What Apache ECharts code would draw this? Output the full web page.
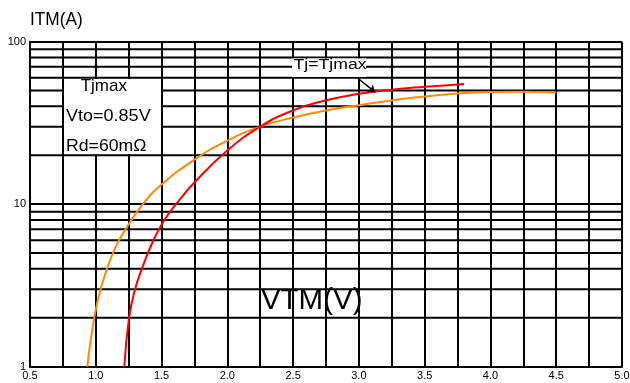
<!DOCTYPE html>
<html>
<head>
<meta charset="utf-8">
<script src="https://cdn.jsdelivr.net/npm/echarts@6/dist/echarts.min.js"></script>
<style>
html,body{margin:0;padding:0;background:#fff;}
#chart{width:630px;height:383px;}
</style>
</head>
<body>
<div id="chart"></div>
<script>
// ---- data ----
const redV = [1.217, 1.253, 1.299, 1.35, 1.438, 1.521, 1.61, 1.75, 2.0, 2.25, 2.5, 2.75, 3.0, 3.25, 3.5, 3.8];
const redI = [1, 2, 3, 4, 6, 8, 10, 13.6, 21.4, 30, 37.8, 43.6, 47.8, 50.7, 52.8, 55];
const orangeV = [0.935, 0.988, 1.037, 1.13, 1.226, 1.358, 1.5, 1.75, 2.0, 2.25, 2.5, 2.75, 3.0, 3.25, 3.5, 3.75, 4.0, 4.25, 4.5];
const orangeI = [1, 2, 3, 5, 7, 10, 13.2, 18.8, 24.6, 30, 34.2, 37.7, 40.7, 43.5, 46, 48, 49, 49.2, 48.6];
const xMin = 0.5, xMax = 5.0, xStep = 0.25;
const yMin = 1, yMax = 100;
const yMinorLines = [2, 3, 4, 5, 6, 7, 8, 9, 20, 30, 40, 50, 60, 70, 80, 90];
const arrowFrom = [2.987, 60];
const arrowTo = [3.124, 48.9];
const yTitle = 'ITM(A)';
const xTitle = 'VTM(V)';
const noteLines = ['Tjmax', 'Vto=0.85V', 'Rd=60mΩ'];
const curveLabel = 'Tj=Tjmax';

const FONT = "'Liberation Sans', Arial, sans-serif";
const chart = echarts.init(document.getElementById('chart'), null, {renderer: 'canvas'});

function pairs(xs, ys) { return xs.map((x, i) => [x, ys[i]]); }

const option = {
  animation: false,
  backgroundColor: '#fff',
  grid: {left: 30, right: 8, top: 41.7, bottom: 16.3, containLabel: false, outerBoundsMode: 'none'},
  xAxis: {
    type: 'value', min: xMin, max: xMax, interval: xStep,
    axisLine: {show: true, lineStyle: {color: '#000', width: 2}},
    axisTick: {show: false},
    axisLabel: {
      color: '#000', fontSize: 11, fontFamily: FONT, margin: 4,
      showMinLabel: true, showMaxLabel: true, hideOverlap: false,
      formatter: v => (Math.round(v * 100) % 50 === 0 ? v.toFixed(1) : '')
    },
    splitLine: {show: true, lineStyle: {color: '#000', width: 2}}
  },
  yAxis: {
    type: 'log', logBase: 10, min: yMin, max: yMax,
    axisLine: {show: true, lineStyle: {color: '#000', width: 2}},
    axisTick: {show: false},
    axisLabel: {color: '#000', fontSize: 11, fontFamily: FONT, margin: 4},
    splitLine: {show: true, lineStyle: {color: '#000', width: 2}}
  },
  series: [
    {
      type: 'custom', z: 1, silent: true,
      data: yMinorLines.map(v => [xMin, v]),
      renderItem: (params, api) => {
        const v = api.value(1);
        const p1 = api.coord([xMin, v]);
        const p2 = api.coord([xMax, v]);
        return {type: 'line', shape: {x1: p1[0], y1: p1[1], x2: p2[0], y2: p2[1]},
                style: {stroke: '#000', lineWidth: 2}};
      }
    },
    {
      type: 'line', z: 3, name: 'orange', data: pairs(orangeV, orangeI),
      showSymbol: false, symbol: 'none', smooth: 0.5,
      lineStyle: {color: '#ff8c00', width: 2}
    },
    {
      type: 'line', z: 4, name: 'red', data: pairs(redV, redI),
      showSymbol: false, symbol: 'none', smooth: 0.5,
      lineStyle: {color: '#ff0000', width: 2},
      markLine: {
        silent: true, symbol: ['none', 'arrow'], symbolSize: 7, animation: false,
        label: {show: false},
        lineStyle: {color: '#000', width: 1.5, type: 'solid'},
        data: [[{coord: arrowFrom}, {coord: arrowTo}]]
      }
    }
  ],
  graphic: {
    elements: [
      {type: 'rect', z: 100, shape: {x: 64, y: 79, width: 97, height: 75}, style: {fill: '#fff'}},
      {type: 'rect', z: 100, shape: {x: 292, y: 58.5, width: 74, height: 18.5}, style: {fill: '#fff'}},
      {type: 'text', z: 101, x: 30, y: 19.7, scaleX: 0.96,
       style: {text: yTitle, font: '18px ' + FONT, fill: '#000', textAlign: 'left', textVerticalAlign: 'middle'}},
      {type: 'text', z: 101, x: 311.7, y: 301,
       style: {text: xTitle, font: '29.5px ' + FONT, fill: '#000', textAlign: 'center', textVerticalAlign: 'middle'}},
      {type: 'text', z: 101, x: 80.7, y: 86.5,
       style: {text: noteLines[0], font: '17px ' + FONT, fill: '#000', textAlign: 'left', textVerticalAlign: 'middle'}},
      {type: 'text', z: 101, x: 66, y: 116, scaleX: 1.06,
       style: {text: noteLines[1], font: '17px ' + FONT, fill: '#000', textAlign: 'left', textVerticalAlign: 'middle'}},
      {type: 'text', z: 101, x: 66, y: 146.5, scaleX: 1.04,
       style: {text: noteLines[2], font: '17px ' + FONT, fill: '#000', textAlign: 'left', textVerticalAlign: 'middle'}},
      {type: 'text', z: 101, x: 293.5, y: 65, scaleX: 1.26,
       style: {text: curveLabel, font: '14px ' + FONT, fill: '#000', textAlign: 'left', textVerticalAlign: 'middle'}}
    ]
  }
};
chart.setOption(option);
</script>
</body>
</html>
